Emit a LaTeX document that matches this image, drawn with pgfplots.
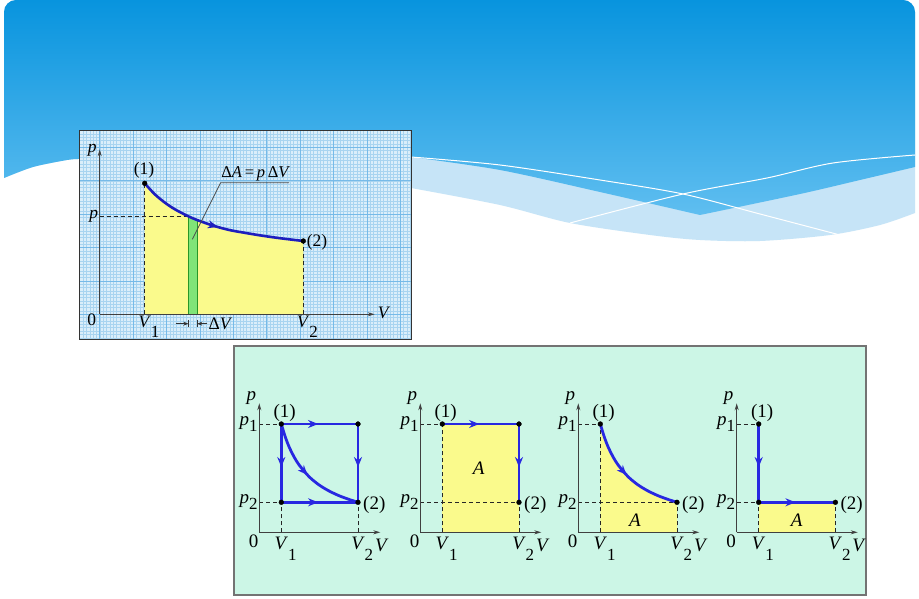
\documentclass[border=0pt]{standalone}
\usepackage{fontspec}
\setmainfont{Liberation Serif}
\usepackage{pgfplots}
\pgfplotsset{compat=1.18}
\usetikzlibrary{arrows.meta,decorations.markings}

\definecolor{skytop}{RGB}{8,148,222}
\definecolor{skybot}{RGB}{95,190,240}
\definecolor{skylight}{RGB}{198,228,247}
\definecolor{paper}{RGB}{218,238,250}
\definecolor{paperfine}{RGB}{168,212,240}
\definecolor{papermajor}{RGB}{118,186,232}
\definecolor{mint}{RGB}{204,246,230}
\definecolor{areay}{RGB}{250,250,140}
\definecolor{stripg}{RGB}{128,228,120}
\definecolor{stripedge}{RGB}{40,150,40}
\definecolor{pathblue}{RGB}{40,40,225}
\definecolor{curveblue}{RGB}{30,30,190}

\newcommand{\lowfont}{\fontsize{19}{21}\selectfont}
\newcommand{\topfont}{\fontsize{17.5}{19}\selectfont}
\newcommand{\subfont}{\fontsize{17}{19}\selectfont}
% letter with a large, low index that does not shift the letter
\newcommand{\idx}[3]{\textit{#1}\rlap{\raisebox{#3}{\subfont #2}}}

\pgfplotsset{
  midarrow/.style={postaction={decorate},
    decoration={markings, mark=at position #1 with {\arrow{Stealth[length=10pt,width=8pt]}}}},
  midarrow/.default=0.55,
  dsh/.style={black!85, line width=0.9pt, dash pattern=on 4pt off 3pt},
  bluepath/.style={pathblue, line width=2.8pt},
  dot/.style={only marks, mark=*, mark size=2.4pt, black},
  mini/.style={x=1pt, y=1pt, xmin=0, xmax=121, ymin=0, ymax=129,
    axis lines=left,
    axis line style={-{Stealth[length=7pt,width=4pt]}, line width=0.9pt, black!75},
    xtick={22,98.7},
    xticklabels={\idx{V}{1}{-11pt}, \idx{V}{2}{-11pt}},
    ytick={30,108.3},
    yticklabels={\textit{p}\raisebox{-6pt}{\subfont 2}, \textit{p}\raisebox{-6pt}{\subfont 1}},
    major tick length=0pt,
    tick label style={font=\lowfont, inner sep=1.5pt},
    xticklabel style={yshift=-3pt},
    clip=false, axis on top, anchor=south west},
}

\begin{document}
\begin{tikzpicture}[x=1pt,y=1pt]
\useasboundingbox (0,0) rectangle (919,598);
\fill[white] (0,0) rectangle (919,598);

% slide background
\begin{scope}
\clip[rounded corners=12pt] (4,-30) rectangle (915,598);
\fill[skylight] (4,420) -- (4,598) -- (915,598) -- (915,385)
  -- plot[smooth] coordinates {(915,385)(880,373)(830,363)(760,357)(700,358)(650,363)(570,375)(500,393)(411,410)}
  -- (79,439) -- plot[smooth] coordinates {(79,439)(67,438)(33,431)(4,420)} -- cycle;
\shade[top color=skytop, bottom color=skybot] (4,420) -- (4,598) -- (915,598) -- (915,431)
  -- plot[smooth] coordinates {(915,431)(860,418)(800,404)(700,383)}
  -- plot[smooth] coordinates {(700,383)(600,406)(500,428)(411,441)}
  -- (79,439) -- plot[smooth] coordinates {(79,439)(67,438)(33,431)(4,420)} -- cycle;
\draw[white, line width=1pt] plot[smooth] coordinates {(411,441)(500,433)(600,418)(683,404)(760,384)(840,363)};
\draw[white, line width=1pt] plot[smooth] coordinates {(570,375)(683,404)(767,420)(833,435)(915,443)};
\end{scope}

% graph paper panel
\fill[paper] (79,258) rectangle (411,467);
\begin{scope}
\clip (79,258) rectangle (411,467);
\begin{scope}[shift={(99.7,283.7)}]
\draw[paperfine, line width=0.35pt, step=3.34] (-22,-27) grid (313,185);
\draw[papermajor, line width=0.7pt, step=33.4] (-22,-27) grid (313,185);
\end{scope}
\end{scope}

% lower panel
\filldraw[fill=mint, draw=black!55, line width=1.2pt] (234,3) rectangle (866,252);

% top diagram
\begin{axis}[x=1pt, y=1pt, xmin=0, xmax=275, ymin=0, ymax=165,
  at={(99.7,283.7)}, anchor=south west,
  axis lines=left,
  axis line style={-{Stealth[length=7pt,width=4pt]}, line width=0.9pt, black!75},
  xtick={45,203.6},
  xticklabels={\idx{V}{1}{-10pt}, \idx{V}{2}{-10pt}},
  ytick={98}, yticklabels={\textit{p}},
  major tick length=0pt,
  tick label style={font=\topfont, inner sep=1.5pt},
  clip=false, axis on top]
\addplot[fill=areay, draw=none, smooth] coordinates {
  (45,131) (55,120.1) (65,111.8) (75,105.1) (88.6,98) (100,93.3) (115,88.2)
  (130,84.2) (145,81.5) (160,79) (175,76.8) (190,74.9) (203.6,73.3)} \closedcycle;
\addplot[fill=stripg, draw=none] coordinates {(88.6,98) (93,96.2) (97.6,94.3)} \closedcycle;
\addplot[stripedge, line width=1.2pt] coordinates {(88.6,0) (88.6,98)};
\addplot[stripedge, line width=1.2pt] coordinates {(97.6,0) (97.6,94.3)};
\addplot[dsh] coordinates {(0,98) (88.6,98)};
\addplot[dsh] coordinates {(45,0) (45,131)};
\addplot[dsh] coordinates {(203.6,0) (203.6,73.3)};
\addplot[curveblue, line width=2.6pt, smooth, midarrow=0.5] coordinates {
  (45,131) (55,120.1) (65,111.8) (75,105.1) (88.6,98) (100,93.3) (115,88.2)
  (130,84.2) (145,81.5) (160,79) (175,76.8) (190,74.9) (203.6,73.3)};
\addplot[dot] coordinates {(45,131) (203.6,73.3)};
\addplot[black!70, line width=0.8pt] coordinates {(92.6,75) (121,131.6) (189.3,131.6)};
\addplot[black!80, line width=0.7pt, -{Stealth[length=5pt,width=4pt]}] coordinates {(76,-9.4) (88.6,-9.4)};
\addplot[black!80, line width=0.7pt, -{Stealth[length=5pt,width=4pt]}] coordinates {(107.6,-9.4) (97.6,-9.4)};
\addplot[black!80, line width=0.7pt] coordinates {(88.6,-5.5) (88.6,-13)};
\addplot[black!80, line width=0.7pt] coordinates {(97.6,-5.5) (97.6,-13)};
\node[font=\topfont] at (axis cs:44.3,144) {(1)};
\node[font=\topfont, anchor=west, inner sep=1pt] at (axis cs:206,72) {(2)};
\node[font=\topfont] at (axis cs:-7.4,164) {\textit{p}};
\node[font=\topfont] at (axis cs:284.3,1) {\textit{V}};
\node[font=\topfont] at (axis cs:-8,-5) {0};
\node[font=\fontsize{16.5}{18}\selectfont] at (axis cs:156,140.6) {Δ\textit{A}\,=\,\textit{p}\,Δ\textit{V}};
\node[font=\topfont, anchor=west, inner sep=1pt] at (axis cs:107.6,-9.4) {Δ\textit{V}};
\end{axis}
\draw[black!80, line width=1pt] (79,258) rectangle (411,467);

% diagram 1: both paths
\begin{axis}[mini, at={(259.3,65.7)}]
\addplot[dsh] coordinates {(0,108.3) (22,108.3)};
\addplot[dsh] coordinates {(0,30) (22,30)};
\addplot[dsh] coordinates {(22,0) (22,30)};
\addplot[dsh] coordinates {(98.7,0) (98.7,30)};
\addplot[bluepath, midarrow=0.48] coordinates {(22,108.3) (98.7,108.3)};
\addplot[bluepath, midarrow=0.55] coordinates {(98.7,108.3) (98.7,30)};
\addplot[bluepath, midarrow=0.55] coordinates {(22,108.3) (22,30)};
\addplot[bluepath, midarrow=0.48] coordinates {(22,30) (98.7,30)};
\addplot[bluepath, smooth, midarrow=0.5] coordinates {
  (22,108.3) (26,95.3) (30,85) (35,75) (40,67.1) (50,55.4) (60,47.2) (70,41.2) (80,36.5) (90,32.8) (98.7,30)};
\addplot[dot] coordinates {(22,108.3) (98.7,108.3) (22,30) (98.7,30)};
\node[font=\lowfont] at (axis cs:25.4,119.3) {(1)};
\node[font=\lowfont] at (axis cs:115,27.3) {(2)};
\node[font=\lowfont] at (axis cs:-8,134) {\textit{p}};
\node[font=\lowfont] at (axis cs:122.5,-13) {\textit{V}};
\node[font=\lowfont] at (axis cs:-5.6,-9.4) {0};
\end{axis}

% diagram 2: isobaric then isochoric
\begin{axis}[mini, at={(420.3,65.7)}]
\addplot[fill=areay, draw=none] coordinates {(22,108.3) (98.7,108.3)} \closedcycle;
\addplot[dsh] coordinates {(0,108.3) (22,108.3)};
\addplot[dsh] coordinates {(0,30) (98.7,30)};
\addplot[dsh] coordinates {(22,0) (22,108.3)};
\addplot[dsh] coordinates {(98.7,0) (98.7,30)};
\addplot[bluepath, midarrow=0.48] coordinates {(22,108.3) (98.7,108.3)};
\addplot[bluepath, midarrow=0.55] coordinates {(98.7,108.3) (98.7,30)};
\addplot[dot] coordinates {(22,108.3) (98.7,108.3) (98.7,30)};
\node[font=\lowfont] at (axis cs:25.4,119.3) {(1)};
\node[font=\lowfont] at (axis cs:115,27.3) {(2)};
\node[font=\lowfont] at (axis cs:-8,134) {\textit{p}};
\node[font=\lowfont] at (axis cs:122.5,-13) {\textit{V}};
\node[font=\lowfont] at (axis cs:-5.6,-9.4) {0};
\node[font=\lowfont] at (axis cs:58.4,64) {\textit{A}};
\end{axis}

% diagram 3: curved path
\begin{axis}[mini, at={(578.3,65.7)}]
\addplot[fill=areay, draw=none, smooth] coordinates {
  (22,108.3) (26,95.3) (30,85) (35,75) (40,67.1) (50,55.4) (60,47.2) (70,41.2) (80,36.5) (90,32.8) (98.7,30)} \closedcycle;
\addplot[dsh] coordinates {(0,108.3) (22,108.3)};
\addplot[dsh] coordinates {(0,30) (98.7,30)};
\addplot[dsh] coordinates {(22,0) (22,108.3)};
\addplot[dsh] coordinates {(98.7,0) (98.7,30)};
\addplot[bluepath, smooth, midarrow=0.5] coordinates {
  (22,108.3) (26,95.3) (30,85) (35,75) (40,67.1) (50,55.4) (60,47.2) (70,41.2) (80,36.5) (90,32.8) (98.7,30)};
\addplot[dot] coordinates {(22,108.3) (98.7,30)};
\node[font=\lowfont] at (axis cs:25.4,119.3) {(1)};
\node[font=\lowfont] at (axis cs:115,27.3) {(2)};
\node[font=\lowfont] at (axis cs:-8,134) {\textit{p}};
\node[font=\lowfont] at (axis cs:122.5,-13) {\textit{V}};
\node[font=\lowfont] at (axis cs:-5.6,-9.4) {0};
\node[font=\lowfont] at (axis cs:56.7,12.3) {\textit{A}};
\end{axis}

% diagram 4: isochoric then isobaric
\begin{axis}[mini, at={(736.7,65.7)}]
\addplot[fill=areay, draw=none] coordinates {(22,30) (98.7,30)} \closedcycle;
\addplot[dsh] coordinates {(0,108.3) (22,108.3)};
\addplot[dsh] coordinates {(0,30) (22,30)};
\addplot[dsh] coordinates {(22,0) (22,30)};
\addplot[dsh] coordinates {(98.7,0) (98.7,30)};
\addplot[bluepath, midarrow=0.55] coordinates {(22,108.3) (22,30)};
\addplot[bluepath, midarrow=0.48] coordinates {(22,30) (98.7,30)};
\addplot[dot] coordinates {(22,108.3) (22,30) (98.7,30)};
\node[font=\lowfont] at (axis cs:25.4,119.3) {(1)};
\node[font=\lowfont] at (axis cs:115,27.3) {(2)};
\node[font=\lowfont] at (axis cs:-8,134) {\textit{p}};
\node[font=\lowfont] at (axis cs:122.5,-13) {\textit{V}};
\node[font=\lowfont] at (axis cs:-5.6,-9.4) {0};
\node[font=\lowfont] at (axis cs:60,12) {\textit{A}};
\end{axis}
\end{tikzpicture}
\end{document}
